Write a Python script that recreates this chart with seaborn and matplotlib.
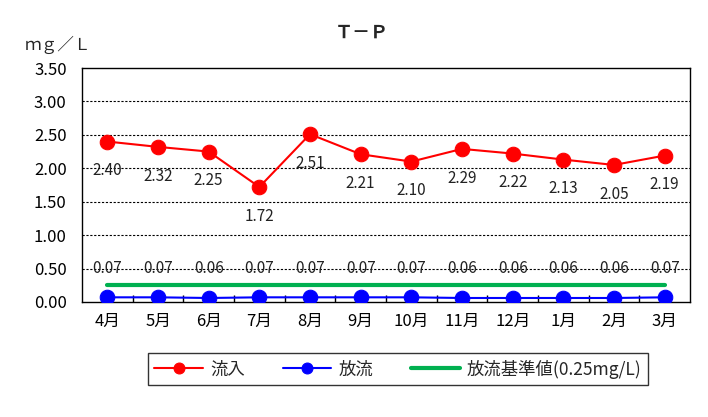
import matplotlib
matplotlib.use("Agg")
import matplotlib.pyplot as plt
import seaborn as sns
import pandas as pd
import numpy as np
from matplotlib.ticker import FixedLocator, FuncFormatter

months = ["4月", "5月", "6月", "7月", "8月", "9月", "10月", "11月", "12月", "1月", "2月", "3月"]
inflow = [2.40, 2.32, 2.25, 1.72, 2.51, 2.21, 2.10, 2.29, 2.22, 2.13, 2.05, 2.19]
outflow = [0.07, 0.07, 0.06, 0.07, 0.07, 0.07, 0.07, 0.06, 0.06, 0.06, 0.06, 0.07]
standard = 0.25
yticks = [0.0, 0.5, 1.0, 1.5, 2.0, 2.5, 3.0, 3.5]

sns.set_theme(style="white")
plt.rcParams["font.family"] = ["Noto Sans CJK JP", "DejaVu Sans"]

fig = plt.figure(figsize=(7.08, 4.17), dpi=100)
ax = fig.add_axes([82/708, 1 - 302/417, 608/708, 234/417])

x = np.arange(len(months))
df = pd.DataFrame({"x": x, "流入": inflow, "放流": outflow})

ax.plot([x[0], x[-1]], [standard, standard], color="#00B050", lw=3, label="放流基準値(0.25mg/L)", zorder=2)
sns.lineplot(data=df, x="x", y="流入", ax=ax, color="red", marker="o", markersize=10.5,
             markeredgecolor="red", lw=1.5, label="流入", zorder=3)
sns.lineplot(data=df, x="x", y="放流", ax=ax, color="blue", marker="o", markersize=10.5,
             markeredgecolor="blue", lw=1.5, label="放流", zorder=3)

for xi, v in zip(x, inflow):
    ax.annotate(f"{v:.2f}", (xi, v), xytext=(0, -21), textcoords="offset points",
                ha="center", va="center", fontsize=11, color="#222222")
for xi, v in zip(x, outflow):
    ax.annotate(f"{v:.2f}", (xi, v), xytext=(0, 21), textcoords="offset points",
                ha="center", va="center", fontsize=11, color="#222222")

ax.set_xlim(-0.5, 11.5)
ax.set_ylim(0, 3.5)
ax.yaxis.set_major_locator(FixedLocator(yticks))
ax.yaxis.set_major_formatter(FuncFormatter(lambda v, p: f"{v:.2f}"))
for yv in yticks[1:-1]:
    ax.axhline(yv, color="black", lw=0.8, ls=(0, (2, 1.5)), zorder=1)
ax.set_xticks(x)
ax.set_xticklabels(months)
ax.xaxis.set_minor_locator(FixedLocator(np.arange(0.5, 11, 1)))
ax.tick_params(axis="x", which="major", length=0, labelsize=12, pad=8, colors="black")
ax.tick_params(axis="x", which="minor", length=5, direction="in", bottom=True, color="black")
ax.tick_params(axis="y", which="major", length=0, labelsize=12, pad=11, colors="black")
ax.set_xlabel("")
ax.set_ylabel("")
for s in ax.spines.values():
    s.set_color("black")
    s.set_linewidth(1)
ax.grid(False)

fig.text(362/708, 1 - 32/417, "Ｔ－Ｐ", ha="center", va="center", fontsize=13, fontweight="bold")
fig.text(58/708, 1 - 45/417, "ｍｇ／Ｌ", ha="center", va="center", fontsize=12)

handles, labels = ax.get_legend_handles_labels()
order = [labels.index("流入"), labels.index("放流"), labels.index("放流基準値(0.25mg/L)")]
if ax.legend_:
    ax.legend_.remove()
leg = fig.legend([handles[i] for i in order], [labels[i] for i in order],
                 loc="center", bbox_to_anchor=(398/708, 1 - 369/417), ncol=3,
                 frameon=True, fancybox=False, edgecolor="black", fontsize=12.5,
                 handlelength=2.8, handletextpad=0.4, columnspacing=2.2, borderpad=0.35,
                 markerscale=0.75)
leg.get_frame().set_linewidth(1)

fig.savefig("out.png", dpi=100, facecolor="white")
